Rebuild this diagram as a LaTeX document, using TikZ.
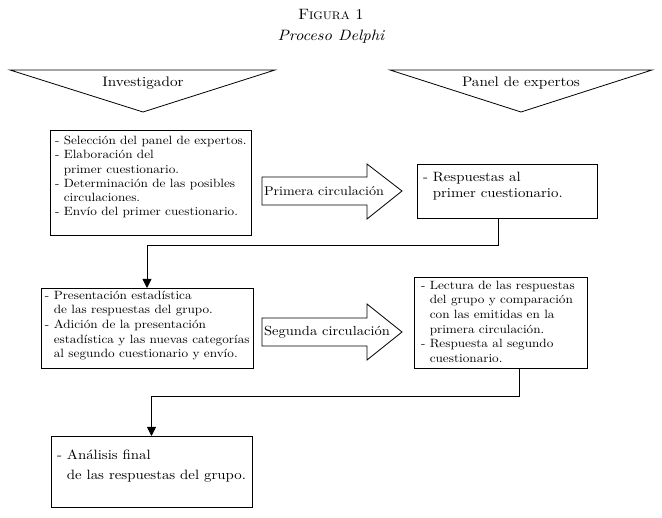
\documentclass[tikz,border=0pt]{standalone}
\usepackage{fontspec}
\setmainfont{lmroman10-regular.otf}[FakeStretch=1.10, ItalicFont=lmroman10-italic.otf, BoldFont=lmroman10-bold.otf]
\usetikzlibrary{arrows.meta,calc}
\begin{document}
\begin{tikzpicture}[x=1pt,y=-1pt,
  every node/.style={inner sep=0pt, outer sep=0pt},
  shp/.style={line width=0.8pt, draw=black},
  box/.style={draw, line width=0.9pt, anchor=north west, inner sep=0pt},
  smalltxt/.style={font=\fontsize{12}{14.3}\selectfont, align=left, anchor=north west},
  bigtxt/.style={font=\fontsize{13.5}{16.5}\selectfont, align=left, anchor=north west},
  lbl/.style={font=\fontsize{13.8}{16}\selectfont},
  conn/.style={line width=0.9pt, -{Triangle[width=9pt,length=9pt]}},
]
\useasboundingbox (0,0) rectangle (662,518);
% title
\node[font=\fontsize{15}{17}\selectfont] (fig) at (331,15) {F{\fontsize{11}{12}\selectfont IGURA} 1};
\node[font=\fontsize{15}{17}\selectfont\itshape] (proc) at (331,37) {Proceso Delphi};
% header triangles
\draw[shp] (10,70) -- (275,70) -- (143,112) -- cycle;
\node[lbl] (inv) at (143,83) {Investigador};
\draw[shp] (390,70) -- (652,70) -- (521,112) -- cycle;
\node[lbl] (pan) at (521,83) {Panel de expertos};
% boxes
\node[box, minimum width=201pt, minimum height=105pt] (b1) at (50,130) {};
\node[box, minimum width=180pt, minimum height=54pt] (b2) at (417,164) {};
\node[box, minimum width=212pt, minimum height=80pt] (b3) at (41,288) {};
\node[box, minimum width=173pt, minimum height=91pt] (b4) at (414,277) {};
\node[box, minimum width=201pt, minimum height=71pt] (b5) at (51,436) {};
% box texts
\node[smalltxt] (t1) at (55,136) {- Selección del panel de expertos.\\- Elaboración del\\\hphantom{- }primer cuestionario.\\- Determinación de las posibles\\\hphantom{- }circulaciones.\\- Envío del primer cuestionario.};
\node[bigtxt] (t2) at (423,172) {- Respuestas al\\\hphantom{- }primer cuestionario.};
\node[smalltxt, font=\fontsize{12}{14.6}\selectfont] (t3) at (45,291) {- Presentación estadística\\\hphantom{- }de las respuestas del grupo.\\- Adición de la presentación\\\hphantom{- }estadística y las nuevas categorías\\\hphantom{- }al segundo cuestionario y envío.};
\node[smalltxt, font=\fontsize{12}{14.6}\selectfont] (t4) at (421,281) {- Lectura de las respuestas\\\hphantom{- }del grupo y comparación\\\hphantom{- }con las emitidas en la\\\hphantom{- }primera circulación.\\- Respuesta al segundo\\\hphantom{- }cuestionario.};
\node[bigtxt, font=\fontsize{13.5}{20}\selectfont] (t5) at (57,450) {- Análisis final\\\hphantom{- }de las respuestas del grupo.};
% block arrows
\draw[shp] (262,177) -- (367,177) -- (367,164) -- (402,191) -- (367,219) -- (367,205) -- (262,205) -- cycle;
\node[font=\fontsize{12.8}{16}\selectfont, anchor=west] (a1) at (264,191) {Primera circulación};
\draw[shp] (262,318) -- (367,318) -- (367,304) -- (402,332) -- (367,360) -- (367,346) -- (262,346) -- cycle;
\node[font=\fontsize{13.2}{16}\selectfont, anchor=west] (a2) at (264,332) {Segunda circulación};
% connectors
\draw[conn] ([xshift=-9pt]b2.south) -- ++(0,27) -| (b3.north);
\draw[conn] ([xshift=18.5pt]b4.south) -- ++(0,28) -| (b5.north);
\end{tikzpicture}
\end{document}
